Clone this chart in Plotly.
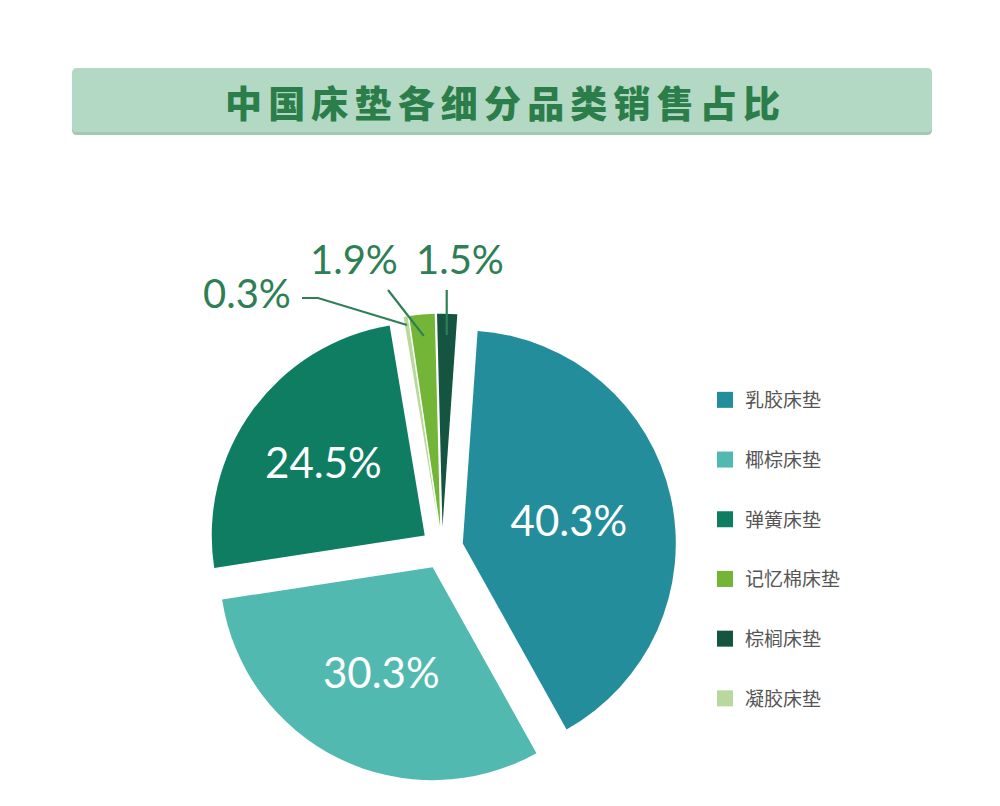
import math
import plotly.graph_objects as go

W, H = 1000, 806
OFF = 8  # page body margin seen in the screenshot

# ---------------- data ----------------
title_text = "中国床垫各细分品类销售占比"
slice_labels = ["乳胶床垫", "椰棕床垫", "弹簧床垫", "凝胶床垫", "记忆棉床垫", "棕榈床垫"]
slice_values = [40.3, 30.3, 24.5, 0.3, 1.9, 1.5]
slice_colors = ["#238d9b", "#52b9b1", "#0e7d62", "#b8d89d", "#73b536", "#145440"]
legend_order = ["乳胶床垫", "椰棕床垫", "弹簧床垫", "记忆棉床垫", "棕榈床垫", "凝胶床垫"]
inside_flags = [True, True, True, False, False, False]

# ---------------- layout constants ----------------
PULL = 0.1
ROT = 4
dom_x = [0.1997, 0.6683]
dom_y = [0.0393, 0.6207]
LABEL_GREEN = "#2f7f56"
PCT_FONT = "Lato"

# outside label text centres and leader line starts (screen px)
outside_text_pos = {"凝胶床垫": (247, 293), "记忆棉床垫": (354, 259), "棕榈床垫": (460, 259)}
line_start = {"凝胶床垫": [(302, 298), (318, 298)], "记忆棉床垫": [(388, 290)], "棕榈床垫": [(None, 290)]}
anchor_frac = {"凝胶床垫": 0.96, "记忆棉床垫": 0.9, "棕榈床垫": 0.9}


def px(x):  # screen px -> paper
    return (x - OFF) / W


def py(y):
    return 1 - (y - OFF) / H


# pie geometry (same rule plotly uses), in figure px
box_w = W * (dom_x[1] - dom_x[0])
box_h = H * (dom_y[1] - dom_y[0])
cx = W * (dom_x[0] + dom_x[1]) / 2
cy = H * (1 - dom_y[0]) - box_h / 2
r = min(box_w, box_h) / (2 + 2 * PULL)
total = sum(slice_values)

mids = {}
start = ROT
for lab, v in zip(slice_labels, slice_values):
    span = v / total * 360
    mids[lab] = start + span / 2
    start += span


def anchor(lab, frac):
    """point inside a slice, returned in screen px"""
    a = math.radians(mids[lab])
    pcx = cx + PULL * r * math.sin(a)
    pcy = cy - PULL * r * math.cos(a)
    return pcx + frac * r * math.sin(a) + OFF, pcy - frac * r * math.cos(a) + OFF


fig = go.Figure()

fig.add_trace(go.Pie(
    labels=slice_labels,
    values=slice_values,
    sort=False,
    direction="clockwise",
    rotation=ROT,
    pull=[PULL] * len(slice_values),
    marker=dict(colors=slice_colors, line=dict(width=0)),
    textposition=["inside" if f else "none" for f in inside_flags],
    texttemplate="%{value:.1f}%",
    insidetextorientation="horizontal",
    textfont=dict(family=PCT_FONT, size=42, color="white", weight=400),
    domain=dict(x=dom_x, y=dom_y),
    showlegend=False,
    hoverinfo="label+value",
))

# legend via marker-only traces (legend order differs from slice order)
color_of = dict(zip(slice_labels, slice_colors))
for i, lab in enumerate(legend_order):
    fig.add_trace(go.Scatter(
        x=[None], y=[None], mode="markers", name=lab,
        legendgroup=f"g{i}",
        marker=dict(symbol="square", size=16, color=color_of[lab]),
    ))

shapes = []
annotations = []


def rounded(x0, y0, x1, y1, rad):
    rx, ry = rad / W, rad / H
    X0, X1, Y0, Y1 = px(x0), px(x1), py(y0), py(y1)
    return (f"M {X0+rx},{Y0} L {X1-rx},{Y0} Q {X1},{Y0} {X1},{Y0-ry} "
            f"L {X1},{Y1+ry} Q {X1},{Y1} {X1-rx},{Y1} L {X0+rx},{Y1} "
            f"Q {X0},{Y1} {X0},{Y1+ry} L {X0},{Y0-ry} Q {X0},{Y0} {X0+rx},{Y0} Z")


shapes.append(dict(type="path", xref="paper", yref="paper", path=rounded(72, 70, 932, 135, 5),
                   fillcolor="#a3c9b4", line=dict(width=0), layer="below"))
shapes.append(dict(type="path", xref="paper", yref="paper", path=rounded(72, 68, 932, 132, 5),
                   fillcolor="#b3d8c3", line=dict(width=0), layer="below"))

spaced_title = "\u2006".join(list(title_text))
annotations.append(dict(
    x=px(502), y=py(102), xref="paper", yref="paper", showarrow=False,
    text=spaced_title,
    font=dict(family="Noto Sans CJK SC", size=37, color="#2b7d49", weight=900),
    xanchor="center", yanchor="middle",
))

# outside labels with leader lines
for lab in ["凝胶床垫", "记忆棉床垫", "棕榈床垫"]:
    i = slice_labels.index(lab)
    val = slice_values[i]
    tx, ty = outside_text_pos[lab]
    annotations.append(dict(
        x=px(tx), y=py(ty), xref="paper", yref="paper", showarrow=False,
        text=f"{val:.1f}%", xanchor="center", yanchor="middle",
        font=dict(family=PCT_FONT, size=40, color=LABEL_GREEN, weight=400),
    ))
    ax_, ay_ = anchor(lab, anchor_frac[lab])
    pts = []
    for (sx, sy) in line_start[lab]:
        pts.append((ax_ if sx is None else sx, sy))
    pts.append((ax_, ay_))
    path = "M " + " L ".join(f"{px(a)},{py(b)}" for a, b in pts)
    shapes.append(dict(type="path", xref="paper", yref="paper", path=path,
                       line=dict(color=LABEL_GREEN, width=2.2), layer="above"))

fig.update_layout(
    width=W, height=H,
    margin=dict(l=0, r=0, t=0, b=0),
    paper_bgcolor="white", plot_bgcolor="white",
    xaxis=dict(visible=False), yaxis=dict(visible=False),
    shapes=shapes, annotations=annotations,
    showlegend=True,
    legend=dict(
        x=px(705), y=py(381), xanchor="left", yanchor="top",
        font=dict(family="Noto Sans CJK SC", size=19, color="#555555"),
        tracegroupgap=32, bgcolor="rgba(0,0,0,0)",
    ),
)

fig.write_html("out.html")
